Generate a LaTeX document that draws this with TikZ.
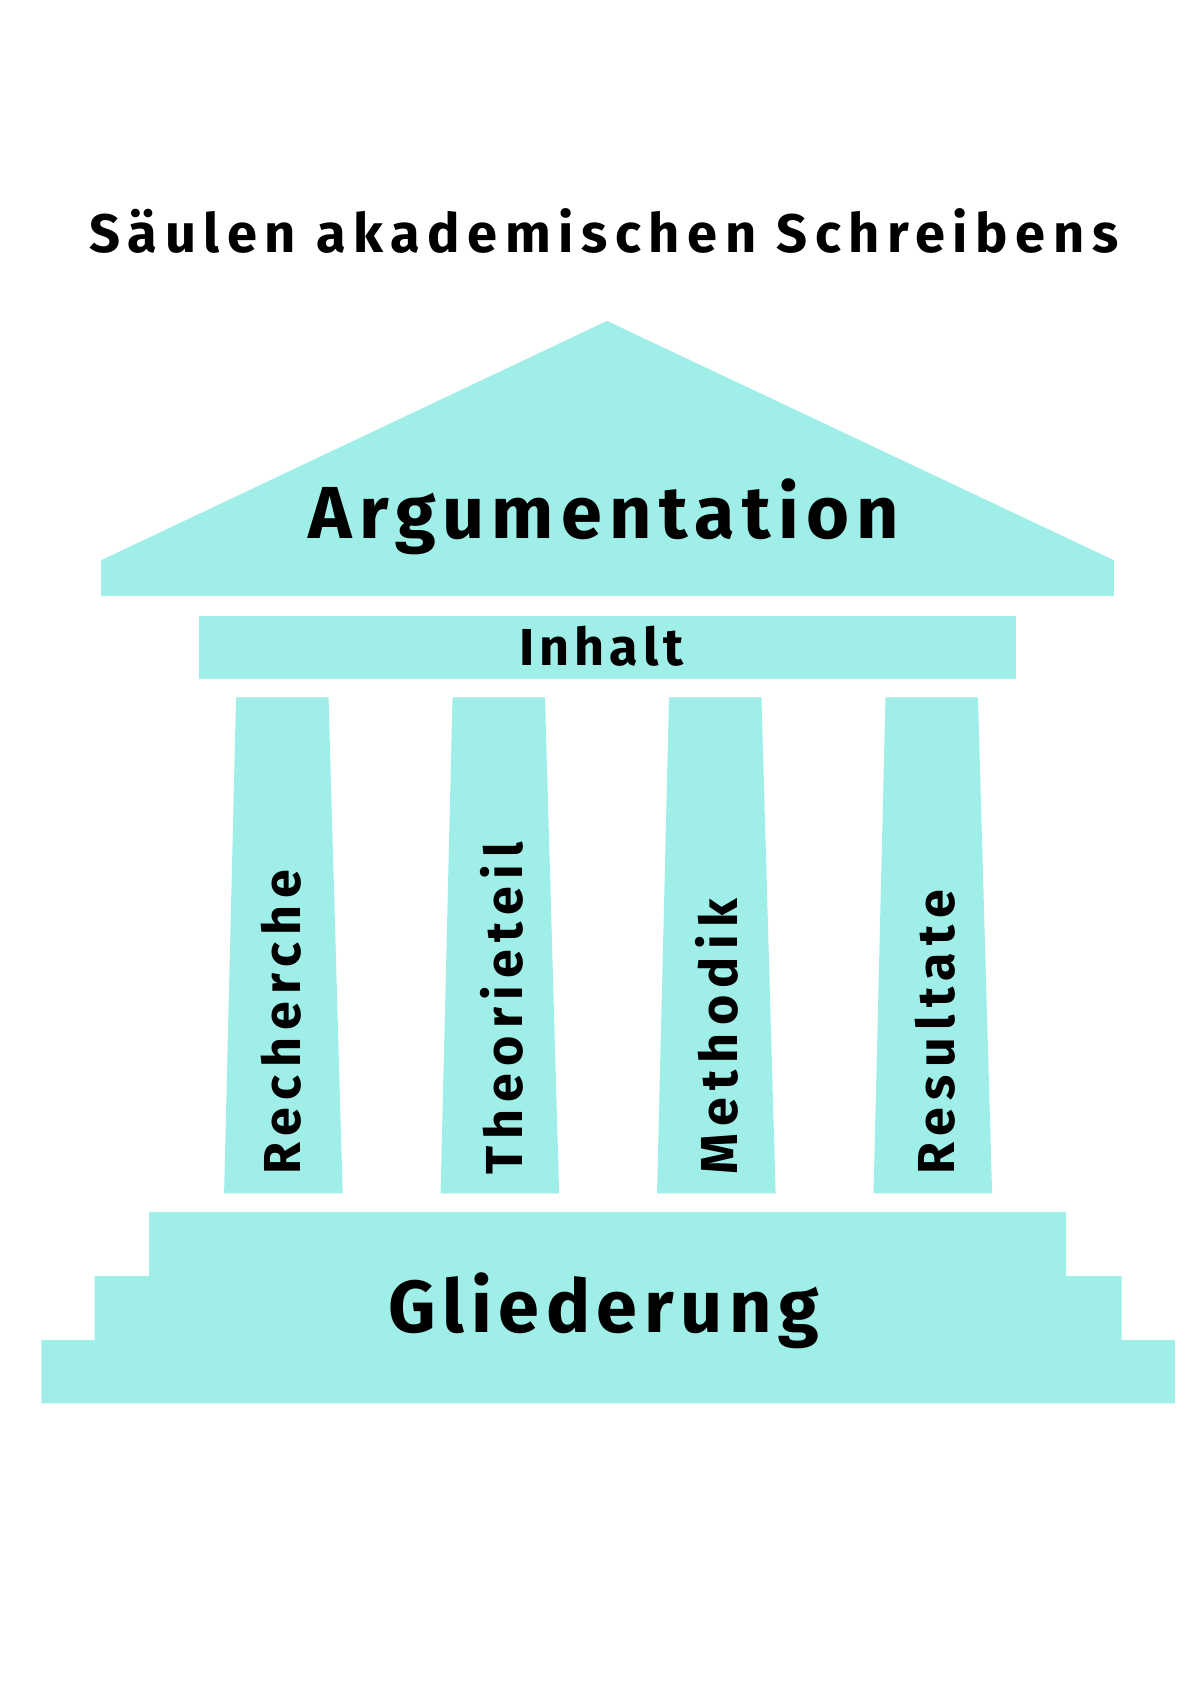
\documentclass[tikz,border=0pt]{standalone}
\usepackage{fontspec}
\setmainfont{Fira Sans}
\usepackage{tikz}
\definecolor{mint}{HTML}{A0EEE8}
\tikzset{part/.style={fill=mint, draw=none},
  lbl/.style={font=\bfseries, text=black, inner sep=0pt}}
\begin{document}
\begin{tikzpicture}[x=1bp, y=-1bp]
  \useasboundingbox (0, 0) rectangle (1103, 1560);
  % roof and beam
  \fill[part] (93, 548) -- (93, 515) -- (558, 295) -- (1024, 515) -- (1024, 548) -- cycle;
  \fill[part] (183, 566) rectangle (934, 624);
  % columns
  \foreach \dx in {0, 199, 398, 597}
    \fill[part] (217+\dx, 641) -- (302+\dx, 641) -- (315+\dx, 1097) -- (206+\dx, 1097) -- cycle;
  % steps
  \fill[part] (137, 1114) -- (980, 1114) -- (980, 1173) -- (1031, 1173) -- (1031, 1232)
    -- (1080, 1232) -- (1080, 1290) -- (38, 1290) -- (38, 1232) -- (87, 1232)
    -- (87, 1173) -- (137, 1173) -- cycle;

  \node[lbl, font=\fontsize{50}{54}\selectfont\bfseries\addfontfeature{LetterSpace=14}] (title) at (555, 212) {Säulen akademischen Schreibens};
  \node[lbl, font=\fontsize{68}{72}\selectfont\bfseries\addfontfeature{LetterSpace=10}] (argu) at (555, 475) {Argumentation};
  \node[lbl, font=\fontsize{48}{52}\selectfont\bfseries\addfontfeature{LetterSpace=10}] (inhalt) at (553, 594) {Inhalt};
  \node[lbl, font=\fontsize{68}{72}\selectfont\bfseries\addfontfeature{LetterSpace=9}] (glied) at (555, 1205) {Gliederung};
  \foreach \x/\t [count=\i] in {258/Recherche, 462/Theorieteil, 660/Methodik, 859/Resultate}
    \node[lbl, rotate=90, anchor=base west, font=\fontsize{48}{52}\selectfont\bfseries\addfontfeature{LetterSpace=14}] (col\i) at (\x+18, 1080) {\t};
\end{tikzpicture}
\end{document}
